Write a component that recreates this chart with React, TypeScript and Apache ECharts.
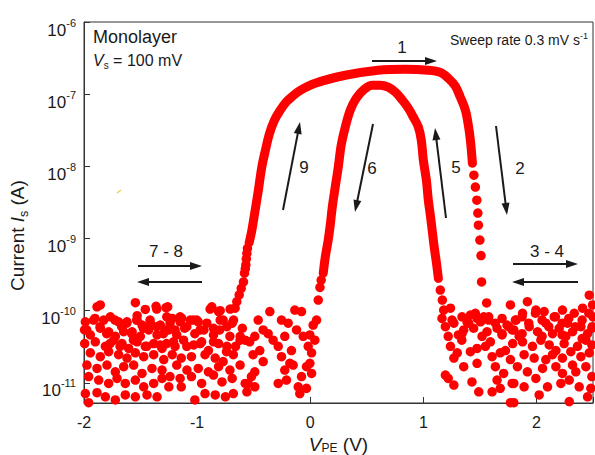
import React, { useEffect, useRef } from 'react';
import * as echarts from 'echarts';

const X_MIN = -2;
const X_MAX = 2.5;
const Y_MIN = 5.25e-12;
const Y_MAX = 1e-6;
const xTickValues = [-2, -1, 0, 1, 2];
const yTickExponents = [-11, -10, -9, -8, -7, -6];

// Background (off-state) current, left side of the sweep (V_PE < ~0.1 V)
const noiseLeft: [number, number][] = [
  [-1.885, 1.13e-10], [-1.856, 1.2e-10], [-1.546, 1.29e-10], [-1.458, 1.04e-10], [-1.363, 1.15e-10], [-1.275, 1.1e-10],
  [-1.988, 7.0e-11], [-1.915, 7.4e-11], [-1.826, 7.4e-11], [-1.767, 8.2e-11], [-1.694, 7.0e-11], [-1.62, 7.0e-11],
  [-1.531, 7.4e-11], [-1.487, 6.3e-11], [-1.413, 6.7e-11], [-1.325, 6.3e-11],
  [-1.995, 5.4e-11], [-1.944, 4.6e-11], [-1.856, 5.7e-11], [-1.782, 5.1e-11], [-1.723, 4.4e-11], [-1.649, 5.1e-11],
  [-1.575, 5.1e-11], [-1.502, 4.4e-11], [-1.428, 5.4e-11], [-1.354, 4.6e-11], [-1.28, 5.4e-11],
  [-1.994, 3.5e-11], [-1.9, 3.7e-11], [-1.811, 3.2e-11], [-1.738, 3.9e-11], [-1.664, 3.5e-11], [-1.605, 3.0e-11],
  [-1.531, 3.7e-11], [-1.458, 3.2e-11], [-1.384, 3.5e-11], [-1.31, 3.0e-11],
  [-1.944, 2.6e-11], [-1.856, 2.3e-11], [-1.782, 2.7e-11], [-1.694, 2.45e-11], [-1.62, 2.2e-11], [-1.546, 2.6e-11],
  [-1.472, 2.3e-11], [-1.384, 2.45e-11], [-1.295, 2.1e-11],
  [-1.974, 1.76e-11], [-1.885, 1.58e-11], [-1.797, 1.76e-11], [-1.723, 1.42e-11], [-1.649, 1.67e-11], [-1.561, 1.76e-11],
  [-1.487, 1.35e-11], [-1.399, 1.58e-11], [-1.31, 1.5e-11],
  [-1.959, 1.22e-11], [-1.87, 1.09e-11], [-1.782, 9.8e-12], [-1.708, 1.15e-11], [-1.635, 9.8e-12], [-1.546, 1.09e-11],
  [-1.472, 8.8e-12], [-1.384, 9.8e-12], [-1.31, 1.15e-11],
  [-1.988, 7.1e-12], [-1.885, 7.3e-12], [-1.959, 5.3e-12], [-1.811, 6.4e-12], [-1.723, 5.8e-12], [-1.635, 6.8e-12],
  [-1.546, 6.4e-12], [-1.443, 6.8e-12], [-1.354, 6.4e-12],
  [-1.26, 1.13e-10], [-1.22, 7.8e-11], [-1.15, 7.0e-11], [-1.06, 7.4e-11], [-0.99, 7.0e-11], [-0.87, 1.13e-10],
  [-0.81, 9.7e-11], [-0.77, 7.4e-11], [-0.69, 6.7e-11], [-0.6, 5.7e-11],
  [-1.25, 5.4e-11], [-1.18, 4.6e-11], [-1.11, 5.7e-11], [-1.02, 4.8e-11], [-0.94, 5.4e-11], [-0.855, 4.6e-11],
  [-0.8, 5.4e-11], [-0.71, 4.4e-11], [-0.62, 3.9e-11],
  [-1.27, 3.5e-11], [-1.195, 3.2e-11], [-1.12, 3.9e-11], [-1.03, 3.35e-11], [-0.96, 3.7e-11], [-0.9, 2.8e-11],
  [-0.81, 3.5e-11], [-0.74, 2.7e-11], [-0.66, 3.2e-11], [-0.575, 3.9e-11],
  [-1.22, 2.45e-11], [-1.14, 2.2e-11], [-1.05, 2.3e-11], [-0.93, 2.45e-11], [-0.84, 2.2e-11], [-0.77, 1.97e-11], [-0.68, 2.45e-11],
  [-1.18, 1.76e-11], [-1.09, 1.5e-11], [-0.99, 1.58e-11], [-0.9, 1.42e-11], [-0.81, 1.67e-11], [-0.71, 1.5e-11], [-0.62, 1.76e-11],
  [-1.24, 1.22e-11], [-1.15, 1.15e-11], [-1.05, 1.22e-11], [-0.96, 9.8e-12], [-0.855, 1.28e-11], [-0.78, 1.03e-11],
  [-0.69, 1.15e-11], [-0.575, 9.8e-12],
  [-1.25, 8.8e-12], [-1.14, 8.8e-12], [-1.02, 5.8e-12], [-0.93, 7.1e-12], [-0.84, 6.8e-12], [-0.75, 6.4e-12],
  [-0.68, 7.1e-12], [-0.56, 7.5e-12],
  [-0.357, 9.7e-11], [-0.46, 7.4e-11], [-0.416, 5.4e-11], [-0.49, 4.4e-11], [-0.535, 3.7e-11], [-0.446, 2.8e-11],
  [-0.505, 2.45e-11], [-0.416, 1.97e-11], [-0.49, 1.42e-11], [-0.52, 1.22e-11], [-0.49, 8.8e-12], [-0.549, 9.8e-12],
  [-0.372, 4.8e-11], [-0.328, 3.9e-11], [-0.254, 7.4e-11], [-0.225, 4.4e-11], [-0.195, 6.7e-11], [-0.283, 3.2e-11],
  [-0.166, 2.8e-11], [-0.121, 5.4e-11], [-0.136, 1.02e-10], [-0.077, 9.7e-11], [-0.062, 4.4e-11], [-0.254, 2.3e-11],
  [-0.18, 1.86e-11], [-0.225, 1.5e-11], [-0.283, 9.8e-12], [-0.21, 1.09e-11], [-0.151, 1.76e-11], [-0.106, 8.8e-12],
  [-0.077, 1.22e-11], [-0.033, 8.4e-12], [-0.092, 7.1e-12], [-0.003, 1.86e-11], [0.012, 1.35e-11], [-0.033, 1.67e-11],
  [-0.018, 3.2e-11], [-0.003, 4.6e-11], [0.026, 6.3e-11], [0.056, 7.4e-11], [0.041, 3.9e-11], [0.012, 2.6e-11],
  [-1.976, 5.4e-11], [-1.903, 7.8e-11], [-1.858, 6.0e-11], [-1.799, 4.8e-11], [-1.726, 7.4e-11], [-1.667, 6.0e-11],
  [-1.622, 6.7e-11], [-1.578, 4.8e-11], [-1.534, 7.4e-11], [-1.475, 5.7e-11], [-1.416, 7.4e-11], [-1.357, 6.0e-11],
  [-1.298, 4.8e-11], [-1.239, 6.7e-11], [-1.195, 5.4e-11], [-1.136, 7.8e-11], [-1.091, 6.0e-11], [-1.032, 7.4e-11],
  [-0.973, 5.4e-11], [-0.914, 6.7e-11], [-0.855, 5.7e-11], [-0.796, 7.4e-11], [-0.737, 6.0e-11], [-0.678, 7.4e-11],
  [-0.619, 4.4e-11], [-1.77, 3.5e-11], [-1.681, 3.2e-11], [-1.563, 3.9e-11], [-1.445, 3.2e-11], [-1.327, 3.35e-11],
  [-1.209, 3.7e-11], [-1.091, 3.2e-11], [-0.973, 3.5e-11], [-0.855, 3.7e-11], [-0.737, 3.2e-11],
  [-1.53, 8.5e-11], [-1.357, 1.05e-10], [-1.268, 8.2e-11], [-1.15, 8.2e-11], [-1.003, 7.4e-11], [-0.885, 1.05e-10],
  [-0.796, 1.0e-10], [-0.708, 1.05e-10],
];

// Background current, right side of the sweep (V_PE > ~1.15 V)
const noiseRight: [number, number][] = [
  [1.18, 1.02e-10], [1.24, 1.08e-10], [1.165, 7.8e-11], [1.195, 6.0e-11], [1.27, 6.7e-11], [1.22, 4.4e-11],
  [1.24, 3.2e-11], [1.3, 2.6e-11], [1.27, 2.2e-11], [1.31, 4.6e-11], [1.34, 3.9e-11], [1.357, 5.4e-11],
  [1.416, 8.7e-11], [1.386, 7.0e-11], [1.445, 5.7e-11], [1.475, 7.8e-11], [1.505, 7.0e-11], [1.534, 8.2e-11],
  [1.578, 7.4e-11], [1.563, 5.1e-11], [1.593, 3.7e-11], [1.549, 3.2e-11], [1.475, 3.0e-11], [1.416, 2.7e-11],
  [1.357, 1.67e-11], [1.475, 1.86e-11], [1.608, 2.3e-11], [1.652, 5.7e-11], [1.696, 4.8e-11], [1.74, 6.3e-11],
  [1.785, 5.4e-11], [1.68, 2.6e-11], [1.637, 1.67e-11], [1.726, 2.8e-11], [1.77, 2.1e-11], [1.71, 1.35e-11],
  [1.652, 1.09e-11], [1.785, 9.8e-12], [1.608, 7.5e-12], [1.68, 8.4e-12], [1.49, 7.5e-12], [1.43, 1.03e-11],
  [1.27, 9.3e-12], [1.195, 1.28e-11], [1.22, 1.15e-11], [1.77, 5.3e-12], [1.77, 1.2e-10],
  [1.92, 1.33e-10], [1.82, 7.4e-11], [1.877, 9.2e-11], [1.995, 1.02e-10], [2.068, 9.7e-11], [2.157, 8.2e-11],
  [2.23, 1.02e-10], [2.275, 6.7e-11], [2.334, 9.2e-11], [2.408, 1.08e-10], [2.467, 1.64e-10], [2.496, 1.2e-10], [2.5, 8.2e-11],
  [1.8, 5.4e-11], [1.847, 4.4e-11], [1.936, 6.0e-11], [2.01, 5.1e-11], [2.083, 6.7e-11], [2.142, 4.8e-11],
  [2.201, 5.7e-11], [2.26, 4.4e-11], [2.319, 5.1e-11], [2.393, 6.0e-11], [2.452, 4.8e-11], [2.49, 5.7e-11],
  [1.79, 3.5e-11], [1.877, 3.7e-11], [1.965, 3.2e-11], [2.039, 3.9e-11], [2.113, 3.35e-11], [2.172, 2.8e-11],
  [2.245, 3.5e-11], [2.304, 2.7e-11], [2.363, 3.2e-11], [2.437, 3.9e-11], [2.49, 3.35e-11],
  [1.891, 2.45e-11], [1.98, 2.2e-11], [2.083, 2.1e-11], [2.142, 2.45e-11], [2.23, 2.2e-11], [2.319, 1.76e-11],
  [2.393, 2.3e-11], [2.467, 2.6e-11],
  [1.832, 1.67e-11], [1.92, 1.42e-11], [2.054, 1.58e-11], [2.172, 1.67e-11], [2.23, 1.35e-11], [2.348, 1.42e-11],
  [2.437, 1.67e-11], [2.49, 1.22e-11],
  [1.8, 9.8e-12], [1.891, 8.8e-12], [1.995, 1.15e-11], [2.098, 8.8e-12], [2.216, 9.8e-12], [2.29, 1.09e-11],
  [2.378, 8.8e-12], [2.481, 8.4e-12],
  [1.8, 5.3e-12], [2.024, 6.8e-12], [2.29, 5.5e-12], [2.452, 6.4e-12],
  [1.254, 7.4e-11], [1.342, 8.2e-11], [1.401, 6.7e-11], [1.46, 9.2e-11], [1.519, 7.4e-11], [1.578, 8.2e-11],
  [1.637, 6.7e-11], [1.696, 7.8e-11], [1.755, 6.0e-11], [1.814, 7.4e-11], [1.873, 8.2e-11], [1.932, 6.7e-11],
  [1.991, 9.2e-11], [2.05, 7.4e-11], [2.109, 6.0e-11], [2.168, 8.2e-11], [2.227, 6.7e-11], [2.286, 7.8e-11],
  [2.345, 6.0e-11], [2.404, 7.4e-11], [2.463, 9.2e-11], [2.493, 6.0e-11], [1.342, 4.8e-11], [1.519, 4.4e-11],
  [1.696, 4.6e-11], [1.873, 4.8e-11], [2.05, 4.4e-11], [2.227, 4.6e-11], [2.404, 4.1e-11],
];

// Sparse dots where the current changes quickly (start of sweep 9, end of sweep 2, ends of sweeps 5/6)
const sweepDots: [number, number][] = [
  [-0.664, 1.08e-10], [-0.649, 1.33e-10], [-0.628, 1.65e-10], [-0.61, 2.04e-10], [-0.59, 2.5e-10],
  [-0.581, 3.3e-10], [-0.574, 3.8e-10], [-0.569, 4.3e-10], [-0.565, 5.2e-10], [-0.56, 6.2e-10], [-0.555, 7.3e-10],
  [1.447, 7.55e-9], [1.46, 5.15e-9], [1.473, 3.4e-9], [1.482, 2.25e-9], [1.487, 1.53e-9], [1.5, 9.5e-10],
  [1.51, 5.8e-10], [1.515, 2.5e-10], [1.56, 1.28e-10],
  [0.071, 1.4e-10], [0.086, 2.1e-10], [0.097, 2.65e-10],
  [1.15, 1.93e-10], [1.168, 1.4e-10],
];

// Sweeps 9 -> 1 -> 2 (dense on-state branch)
const outerSweep: [number, number][] = [
  [-0.54, 8.7e-10], [-0.516, 1.3e-9], [-0.49, 2.3e-9], [-0.46, 4.5e-9], [-0.428, 9.8e-9], [-0.395, 1.7e-8],
  [-0.36, 2.85e-8], [-0.315, 4.4e-8], [-0.265, 6.0e-8], [-0.215, 7.7e-8], [-0.162, 9.2e-8], [-0.088, 1.13e-7],
  [0.044, 1.42e-7], [0.31, 1.83e-7], [0.6, 2.15e-7], [0.84, 2.22e-7], [1.044, 2.15e-7], [1.15, 2.0e-7],
  [1.221, 1.66e-7], [1.283, 1.29e-7], [1.327, 9.1e-8], [1.372, 6.0e-8], [1.398, 3.7e-8], [1.416, 2.3e-8],
  [1.434, 1.1e-8],
];

// Sweeps 5 -> 6 (inner loop)
const innerSweep: [number, number][] = [
  [0.115, 3.3e-10], [0.133, 5.5e-10], [0.159, 9.5e-10], [0.177, 1.53e-9], [0.195, 2.72e-9], [0.221, 5.15e-9],
  [0.248, 9.75e-9], [0.274, 1.97e-8], [0.31, 3.5e-8], [0.354, 6.0e-8], [0.407, 8.8e-8], [0.478, 1.17e-7],
  [0.549, 1.33e-7], [0.619, 1.33e-7], [0.69, 1.25e-7], [0.752, 1.07e-7], [0.814, 8.3e-8], [0.867, 6.4e-8],
  [0.912, 4.8e-8], [0.956, 3.5e-8], [0.982, 2.3e-8], [1.0, 1.22e-8], [1.027, 6.4e-9], [1.044, 3.4e-9],
  [1.062, 2.1e-9], [1.08, 1.23e-9], [1.097, 7.4e-10], [1.115, 4.7e-10], [1.133, 2.8e-10],
];

const FONT = "'Liberation Sans', Arial, Helvetica, sans-serif";
const RED = '#ff0000';
const INK = '#1a1a1a';

function arrow(x1: number, y1: number, x2: number, y2: number) {
  const dx = x2 - x1;
  const dy = y2 - y1;
  const L = Math.hypot(dx, dy);
  const ux = dx / L;
  const uy = dy / L;
  const hl = 12;
  const hw = 4;
  const bx = x2 - ux * hl;
  const by = y2 - uy * hl;
  return [
    {
      type: 'line',
      shape: { x1, y1, x2: bx + ux * 2, y2: by + uy * 2 },
      style: { stroke: INK, lineWidth: 2 },
      z: 100,
    },
    {
      type: 'polygon',
      shape: { points: [[x2, y2], [bx - uy * hw, by + ux * hw], [bx + uy * hw, by - ux * hw]] },
      style: { fill: INK },
      z: 100,
    },
  ];
}

function label(text: string, x: number, y: number, size = 17) {
  return {
    type: 'text',
    x,
    y,
    z: 100,
    style: { text, fontSize: size, fontFamily: FONT, fill: INK, align: 'center', verticalAlign: 'middle' },
  };
}

export default function App() {
  const ref = useRef<HTMLDivElement>(null);

  useEffect(() => {
    if (!ref.current) return;
    const chart = echarts.init(ref.current, null, { renderer: 'svg' });

    const option: any = {
      animation: false,
      backgroundColor: '#ffffff',
      grid: {
        left: 84,
        right: 2,
        top: 22,
        bottom: 52,
        containLabel: false,
        outerBoundsMode: 'none',
        show: true,
        borderColor: '#333',
        borderWidth: 1,
        backgroundColor: 'transparent',
      },
      xAxis: {
        type: 'value',
        min: X_MIN,
        max: X_MAX,
        interval: 1,
        name: '{i|V}{sub|PE}{n| (V)}',
        nameLocation: 'middle',
        nameGap: 28,
        nameTextStyle: {
          rich: {
            i: { fontSize: 19, fontStyle: 'italic', fontFamily: FONT, color: INK, lineHeight: 20 },
            sub: { fontSize: 12, fontFamily: FONT, color: INK, lineHeight: 12, verticalAlign: 'bottom' },
            n: { fontSize: 19, fontFamily: FONT, color: INK, lineHeight: 20 },
          },
        },
        axisLine: { show: true, onZero: false, lineStyle: { color: '#333', width: 1 } },
        axisTick: { show: true, inside: true, length: 6, lineStyle: { color: '#333' } },
        splitLine: { show: false },
        axisLabel: {
          margin: 11,
          fontSize: 16,
          fontFamily: FONT,
          color: INK,
          formatter: (v: number) => (xTickValues.some((t) => Math.abs(t - v) < 1e-6) ? String(v) : ''),
        },
      },
      yAxis: {
        type: 'log',
        logBase: 10,
        min: Y_MIN,
        max: Y_MAX,
        name: '{n|Current }{i|I}{sub|s}{n| (A)}',
        nameLocation: 'middle',
        nameGap: 50,
        nameTextStyle: {
          padding: [0, 46, 0, 0],
          rich: {
            i: { fontSize: 19, fontStyle: 'italic', fontFamily: FONT, color: INK, lineHeight: 26 },
            sub: { fontSize: 12.5, fontFamily: FONT, color: INK, lineHeight: 13, verticalAlign: 'bottom' },
            n: { fontSize: 19, fontFamily: FONT, color: INK, lineHeight: 26 },
          },
        },
        axisLine: { show: true, onZero: false, lineStyle: { color: '#333', width: 1 } },
        axisTick: { show: true, inside: true, length: 6, lineStyle: { color: '#333' } },
        splitLine: { show: false },
        minorTick: { show: false },
        axisLabel: {
          margin: 8,
          padding: [16, 0, 0, 0],
          formatter: (v: number) => {
            const e = Math.log10(v);
            const r = Math.round(e);
            if (Math.abs(e - r) > 0.01 || !yTickExponents.includes(r)) return '';
            return `{b|10}{s|${r}}`;
          },
          rich: {
            b: { fontSize: 17, fontFamily: FONT, color: INK, lineHeight: 26 },
            s: { fontSize: 11, fontFamily: FONT, color: INK, lineHeight: 11, verticalAlign: 'top' },
          },
        },
      },
      series: [
        {
          name: 'background',
          type: 'scatter',
          data: [...noiseLeft, ...noiseRight, ...sweepDots],
          symbol: 'circle',
          symbolSize: 9.5,
          itemStyle: { color: RED, opacity: 1 },
          clip: false,
          z: 3,
        },
        {
          name: 'sweep 9-1-2',
          type: 'line',
          data: outerSweep,
          showSymbol: false,
          smooth: 0.35,
          lineStyle: { color: RED, width: 9, cap: 'round', join: 'round', opacity: 1 },
          z: 3,
        },
        {
          name: 'sweep 5-6',
          type: 'line',
          data: innerSweep,
          showSymbol: false,
          smooth: 0.35,
          lineStyle: { color: RED, width: 9, cap: 'round', join: 'round', opacity: 1 },
          z: 3,
        },
      ],
      graphic: [
        {
          type: 'text',
          x: 93,
          y: 37,
          z: 100,
          style: { text: 'Monolayer', fontSize: 18, fontFamily: FONT, fill: INK, align: 'left', verticalAlign: 'middle' },
        },
        {
          type: 'text',
          x: 93,
          y: 60,
          z: 100,
          style: {
            text: '{i|V}{sub|s}{n| = 100 mV}',
            align: 'left',
            verticalAlign: 'middle',
            rich: {
              i: { fontSize: 16, fontStyle: 'italic', fontFamily: FONT, fill: INK, lineHeight: 20 },
              sub: { fontSize: 10, fontFamily: FONT, fill: INK, lineHeight: 10, verticalAlign: 'bottom' },
              n: { fontSize: 16, fontFamily: FONT, fill: INK, lineHeight: 20 },
            },
          },
        },
        {
          type: 'text',
          x: 450,
          y: 40,
          z: 100,
          style: {
            text: '{n|Sweep rate 0.3 mV s}{sup|-1}',
            align: 'left',
            verticalAlign: 'middle',
            rich: {
              n: { fontSize: 14, fontFamily: FONT, fill: INK, lineHeight: 18 },
              sup: { fontSize: 9, fontFamily: FONT, fill: INK, lineHeight: 9, verticalAlign: 'top' },
            },
          },
        },
        ...arrow(372, 61, 437, 61),
        label('1', 402, 47),
        ...arrow(283, 210, 300, 122),
        label('9', 304, 167),
        ...arrow(373, 124, 355, 212),
        label('6', 372, 168),
        ...arrow(446, 218, 435, 128),
        label('5', 456, 167),
        ...arrow(496, 126, 507, 215),
        label('2', 520, 168),
        ...arrow(138, 266, 202, 266),
        ...arrow(202, 282, 137, 282),
        label('7 - 8', 166, 251),
        ...arrow(513, 264, 578, 264),
        ...arrow(578, 282, 512, 282),
        label('3 - 4', 547, 251),
        {
          type: 'line',
          shape: { x1: 117, y1: 193, x2: 121, y2: 190 },
          style: { stroke: '#e3d64a', lineWidth: 1.5 },
        },
      ],
    };

    chart.setOption(option);
    return () => chart.dispose();
  }, []);

  return <div ref={ref} style={{ position: 'absolute', left: 0, top: 0, width: 595, height: 455 }} />;
}
